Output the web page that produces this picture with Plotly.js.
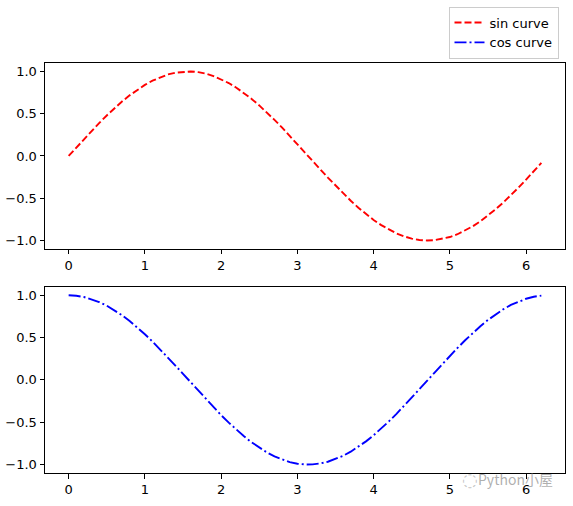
<!DOCTYPE html>
<html>
<head>
<meta charset="utf-8">
<script src="https://cdn.plot.ly/plotly-3.0.1.min.js"></script>
<style>html,body{margin:0;padding:0;background:#fff;}#chart{width:573px;height:506px;}</style>
</head>
<body>
<div id="chart"></div>
<script>
const xValues = [0.0,0.1,0.2,0.3,0.4,0.5,0.6,0.7,0.8,0.9,1.0,1.1,1.2,1.3,1.4,1.5,1.6,1.7,1.8,1.9,2.0,2.1,2.2,2.3,2.4,2.5,2.6,2.7,2.8,2.9,3.0,3.1,3.2,3.3,3.4,3.5,3.6,3.7,3.8,3.9,4.0,4.1,4.2,4.3,4.4,4.5,4.6,4.7,4.8,4.9,5.0,5.1,5.2,5.3,5.4,5.5,5.6,5.7,5.8,5.9,6.0,6.1,6.2];
const sinValues = [0.000,0.100,0.199,0.296,0.389,0.479,0.565,0.644,0.717,0.783,0.841,0.891,0.932,0.964,0.985,0.997,1.000,0.992,0.974,0.946,0.909,0.863,0.808,0.746,0.675,0.598,0.516,0.427,0.335,0.239,0.141,0.042,-0.058,-0.158,-0.256,-0.351,-0.443,-0.530,-0.612,-0.688,-0.757,-0.818,-0.872,-0.916,-0.952,-0.978,-0.994,-1.000,-0.996,-0.982,-0.959,-0.926,-0.883,-0.832,-0.773,-0.706,-0.631,-0.551,-0.465,-0.374,-0.279,-0.182,-0.083];
const cosValues = [1.000,0.995,0.980,0.955,0.921,0.878,0.825,0.765,0.697,0.622,0.540,0.454,0.362,0.267,0.170,0.071,-0.029,-0.129,-0.227,-0.323,-0.416,-0.505,-0.589,-0.666,-0.737,-0.801,-0.857,-0.904,-0.942,-0.971,-0.990,-0.999,-0.998,-0.987,-0.967,-0.936,-0.897,-0.848,-0.791,-0.726,-0.654,-0.575,-0.490,-0.401,-0.307,-0.211,-0.112,-0.012,0.087,0.187,0.284,0.378,0.469,0.554,0.635,0.709,0.776,0.835,0.886,0.927,0.960,0.983,0.997];
const seriesNames = ["sin curve", "cos curve"];
const xTicks = [0,1,2,3,4,5,6];
const yTicks = [-1.0,-0.5,0.0,0.5,1.0];
const yTickText = ["\u22121.0","\u22120.5","0.0","0.5","1.0"];
const watermarkText = "Python\u5C0F\u5C4B";

const font = {family: "DejaVu Sans", size: 13, color: "#000"};
function xa(anchor) {
  return {
    range: [-0.31, 6.51], tickvals: xTicks, ticks: "outside", ticklen: 4.5, tickwidth: 1,
    tickcolor: "#000", showline: true, linecolor: "#000", linewidth: 1, mirror: true,
    showgrid: false, zeroline: false, tickfont: font, anchor: anchor
  };
}
function ya(domain, anchor) {
  return {
    domain: domain, range: [-1.1, 1.1], tickvals: yTicks, ticktext: yTickText,
    ticks: "outside", ticklen: 4.5, tickwidth: 1, tickcolor: "#000",
    showline: true, linecolor: "#000", linewidth: 1, mirror: true,
    showgrid: false, zeroline: false, tickfont: font, anchor: anchor
  };
}

const traces = [
  {x: xValues, y: sinValues, mode: "lines", name: seriesNames[0], xaxis: "x", yaxis: "y",
   line: {color: "#ff0000", width: 1.9, dash: "7px,3px"}},
  {x: xValues, y: cosValues, mode: "lines", name: seriesNames[1], xaxis: "x2", yaxis: "y2",
   line: {color: "#0000ff", width: 1.9, dash: "12px,3px,2px,3px"}}
];

const layout = {
  width: 573, height: 506,
  margin: {l: 44.5, r: 7.5, t: 61.5, b: 33.3},
  paper_bgcolor: "#fff", plot_bgcolor: "#fff",
  font: font,
  showlegend: true,
  legend: {
    x: 0.9875, y: 1.135, xanchor: "right", yanchor: "top",
    bordercolor: "#cccccc", borderwidth: 1, bgcolor: "#fff",
    font: {family: "DejaVu Sans", size: 13, color: "#000"},
    itemwidth: 30, tracegroupgap: 0
  },
  xaxis: xa("y"),
  yaxis: ya([0.5465, 1], "x"),
  xaxis2: xa("y2"),
  yaxis2: ya([0, 0.454], "x2"),
  annotations: [
    {xref: "paper", yref: "paper", x: 0.98, y: -0.0153, xanchor: "right", yanchor: "middle",
     text: watermarkText, showarrow: false,
     font: {family: "Noto Sans CJK SC", size: 14, color: "rgba(140,140,140,0.7)"}},
    {xref: "paper", yref: "paper", x: 0.8365, y: -0.0153, xanchor: "right", yanchor: "middle",
     text: "\u25CC", showarrow: false,
     font: {family: "DejaVu Sans", size: 18, color: "rgba(160,160,160,0.6)"}}
  ]
};

Plotly.newPlot("chart", traces, layout, {displayModeBar: false, staticPlot: true});
</script>
</body>
</html>
